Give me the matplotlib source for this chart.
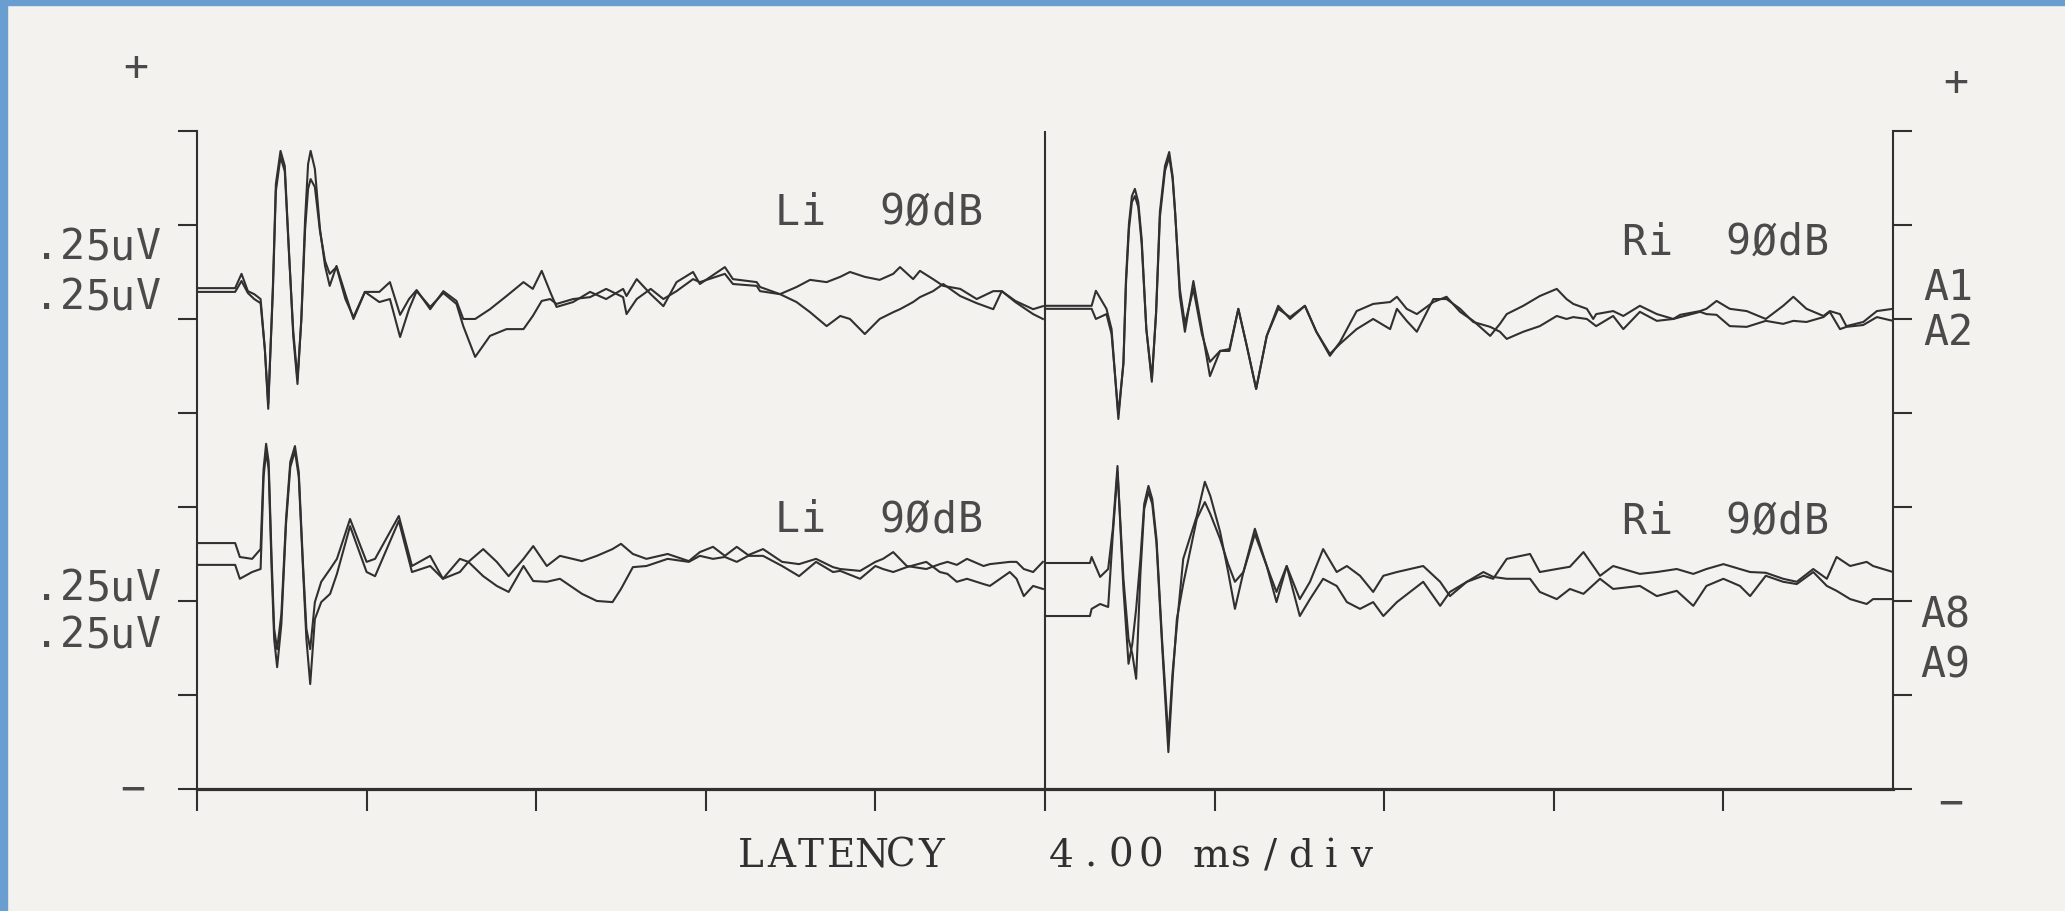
import matplotlib.pyplot as plt
from matplotlib.patches import Rectangle

# ABR printout, two ears x two recordings each, 90 dB click
# latency in ms, amplitude in uV (relative to each pair's baseline)

# left ear (Li), upper pair
t_lu = [0.0, 0.9, 1.05, 1.2, 1.35, 1.5, 1.6, 1.68, 1.79, 1.86,
        1.97, 2.07, 2.17, 2.27, 2.37, 2.46, 2.55, 2.62, 2.68, 2.78,
        2.9, 3.02, 3.13, 3.29, 3.5, 3.69, 3.96,
        4.3, 4.55, 4.79, 5.0, 5.18, 5.5, 5.81, 6.12, 6.28, 6.56,
        6.91, 7.3, 7.7, 7.92, 8.13, 8.33, 8.48, 8.87, 9.27, 9.65,
        10.05, 10.13, 10.37, 10.7, 11.0, 11.31, 11.7, 11.86, 12.45, 12.64,
        13.2, 13.28, 13.75, 14.14, 14.46, 14.85, 15.17, 15.4, 15.75, 16.1,
        16.42, 16.58, 16.89, 17.05, 17.36, 17.6, 18.0, 18.39, 18.78, 18.98,
        19.3, 19.72, 19.95]
lu_a = [0.005, 0.005, 0.043, -0.003, -0.011, -0.024, -0.157, -0.316, 0.011, 0.282,
        0.370, 0.330, 0.101, -0.122, -0.250, -0.077, 0.189, 0.335, 0.370, 0.322,
        0.162, 0.064, 0.011, 0.064, -0.011, -0.077, -0.005,
        -0.005, 0.021, -0.066, -0.024, 0.0, -0.051, -0.003, -0.029, -0.077, -0.077,
        -0.051, -0.016, 0.021, 0.003, 0.051, -0.005, -0.045, -0.032, -0.005, -0.024,
        0.003, -0.016, 0.029, -0.011, -0.043, 0.021, 0.048, 0.016, 0.061, 0.029,
        0.021, 0.008, -0.011, 0.008, 0.027, 0.021, 0.035, 0.048, 0.035, 0.027,
        0.043, 0.061, 0.029, 0.051, 0.029, 0.011, 0.003, -0.024, -0.003, -0.003,
        -0.029, -0.051, -0.043]
lu_b = [-0.005, -0.005, 0.024, -0.008, -0.024, -0.035, -0.157, -0.303, -0.003, 0.263,
        0.354, 0.316, 0.096, -0.109, -0.237, -0.082, 0.162, 0.269, 0.295, 0.274,
        0.157, 0.077, 0.043, 0.061, -0.024, -0.072, -0.005,
        -0.032, -0.024, -0.125, -0.051, -0.003, -0.045, -0.008, -0.037, -0.096, -0.178,
        -0.122, -0.104, -0.104, -0.069, -0.029, -0.024, -0.037, -0.024, -0.019, 0.003,
        -0.019, -0.064, -0.024, 0.003, -0.024, -0.003, 0.029, 0.021, 0.043, 0.016,
        0.011, -0.003, -0.011, -0.032, -0.059, -0.096, -0.069, -0.077, -0.117, -0.077,
        -0.059, -0.051, -0.032, -0.019, -0.003, 0.016, -0.016, -0.035, -0.051, -0.003,
        -0.032, -0.064, -0.077]

# left ear (Li), lower pair
t_ll = [0.0, 0.9, 1.01, 1.3, 1.5, 1.57, 1.63, 1.69, 1.76, 1.82,
        1.89, 1.99, 2.1, 2.2, 2.31, 2.4, 2.5, 2.58, 2.67, 2.78,
        2.93, 3.14, 3.3, 3.61, 4.0, 4.2, 4.76, 5.07, 5.5,
        5.8, 6.2, 6.4, 6.75, 7.07, 7.35, 7.7, 7.93, 8.25, 8.56,
        9.08, 9.43, 9.8, 10.0, 10.28, 10.6, 11.1, 11.6, 11.86, 12.17,
        12.45, 12.73, 13.0, 13.35, 13.8, 14.2, 14.6, 15.0, 15.17, 15.64,
        16.0, 16.18, 16.42, 16.74, 17.2, 17.52, 17.7, 17.92, 18.16, 18.55,
        18.7, 19.17, 19.33, 19.5, 19.72, 19.95]
ll_a = [0.029, 0.029, -0.008, -0.013, 0.013, 0.226, 0.293, 0.245, -0.013, -0.199,
        -0.253, -0.160, 0.093, 0.245, 0.287, 0.218, -0.027, -0.199, -0.253, -0.128,
        -0.074, -0.040, -0.013, 0.093, -0.021, -0.013, 0.101, -0.032, -0.005,
        -0.066, -0.013, -0.021, 0.013, -0.021, -0.059, -0.013, 0.021, -0.032, -0.005,
        -0.019, -0.005, 0.013, 0.027, 0.0, -0.013, 0.0, -0.019, 0.005, 0.019,
        -0.005, 0.019, -0.003, 0.013, -0.021, -0.027, -0.013, -0.035, -0.040, -0.045,
        -0.021, -0.013, 0.005, -0.032, -0.040, -0.027, -0.021, -0.029, -0.013, -0.032,
        -0.027, -0.021, -0.021, -0.040, -0.048, -0.021]
ll_b = [-0.029, -0.029, -0.066, -0.048, -0.040, 0.205, 0.271, 0.226, -0.040, -0.226,
        -0.301, -0.186, 0.080, 0.231, 0.274, 0.205, -0.040, -0.226, -0.346, -0.173,
        -0.128, -0.106, -0.053, 0.074, -0.048, -0.059, 0.088, -0.048, -0.032,
        -0.066, -0.048, -0.021, -0.059, -0.085, -0.101, -0.032, -0.072, -0.074, -0.066,
        -0.106, -0.125, -0.128, -0.093, -0.035, -0.032, -0.013, -0.021, -0.005, -0.013,
        -0.008, -0.021, -0.005, -0.005, -0.032, -0.059, -0.021, -0.048, -0.045, -0.066,
        -0.032, -0.040, -0.048, -0.035, -0.021, -0.048, -0.053, -0.074, -0.066, -0.080,
        -0.085, -0.048, -0.066, -0.112, -0.085, -0.093]

# right ear (Ri), upper pair
t_ru = [0.0, 1.1, 1.2, 1.45, 1.57, 1.73, 1.85, 1.91, 1.98, 2.05,
        2.12, 2.2, 2.28, 2.39, 2.52, 2.62, 2.71, 2.83, 2.93, 3.01,
        3.07, 3.18, 3.3, 3.5, 3.7, 3.89, 4.13,
        4.35, 4.56, 4.76, 4.98, 5.23, 5.5, 5.78, 6.13, 6.4, 6.72,
        6.96, 7.35, 7.74, 8.14, 8.3, 8.53, 8.77, 9.16, 9.47, 9.79,
        10.1, 10.5, 10.73, 10.89, 11.28, 11.67, 12.07, 12.3, 12.46, 12.78,
        12.93, 13.0, 13.4, 13.64, 14.03, 14.43, 14.82, 14.98, 15.45, 15.6,
        15.84, 16.15, 16.55, 17.0, 17.41, 17.65, 17.96, 18.36, 18.51, 18.75,
        18.9, 19.3, 19.62, 20.0]
ru_a = [0.003, 0.003, 0.043, -0.005, -0.059, -0.298, -0.146, 0.074, 0.221, 0.295,
        0.314, 0.279, 0.181, -0.059, -0.199, -0.013, 0.253, 0.375, 0.412, 0.348,
        0.253, 0.029, -0.066, 0.069, -0.059, -0.184, -0.117,
        -0.117, -0.005, -0.104, -0.218, -0.077, 0.003, -0.032, 0.003, -0.066, -0.130,
        -0.093, -0.011, 0.008, 0.013, 0.027, -0.005, -0.019, 0.013, 0.027, -0.013,
        -0.037, -0.077, -0.045, -0.019, 0.003, 0.029, 0.048, 0.021, 0.008, -0.005,
        -0.032, -0.019, -0.011, -0.024, 0.003, -0.019, -0.032, -0.021, -0.011, -0.005,
        0.016, -0.005, -0.011, -0.032, 0.003, 0.027, -0.005, -0.024, -0.011, -0.019,
        -0.051, -0.040, -0.011, -0.005]
ru_b = [-0.005, -0.005, -0.032, -0.019, -0.072, -0.285, -0.152, 0.061, 0.207, 0.279,
        0.295, 0.266, 0.168, -0.059, -0.191, -0.019, 0.239, 0.362, 0.399, 0.340,
        0.247, 0.048, -0.045, 0.048, -0.072, -0.146, -0.117,
        -0.112, -0.005, -0.104, -0.218, -0.077, -0.005, -0.027, 0.003, -0.066, -0.125,
        -0.098, -0.059, -0.032, -0.059, -0.005, -0.037, -0.066, 0.021, 0.021, -0.005,
        -0.040, -0.053, -0.066, -0.085, -0.066, -0.051, -0.024, -0.032, -0.027, -0.032,
        -0.045, -0.051, -0.024, -0.059, -0.013, -0.037, -0.032, -0.027, -0.013, -0.019,
        -0.021, -0.051, -0.053, -0.037, -0.045, -0.037, -0.040, -0.027, -0.013, -0.059,
        -0.053, -0.048, -0.027, -0.037]

# right ear (Ri), lower pair
t_rl = [0.0, 1.06, 1.1, 1.3, 1.49, 1.6, 1.71, 1.78, 1.85, 1.97,
        2.06, 2.15, 2.25, 2.34, 2.44, 2.53, 2.63, 2.76, 2.91, 3.01,
        3.11, 3.26, 3.58, 3.77, 3.9, 4.13, 4.32, 4.48,
        4.68, 4.95, 5.23, 5.46, 5.7, 6.01, 6.25, 6.56, 6.88, 7.12,
        7.43, 7.74, 7.98, 8.3, 8.92, 9.32, 9.55, 9.95, 10.34, 10.57,
        10.89, 11.44, 11.67, 12.07, 12.38, 12.7, 13.09, 13.4, 14.03, 14.43,
        14.9, 15.29, 15.6, 16.0, 16.39, 16.63, 17.0, 17.41, 17.73, 18.12,
        18.44, 18.67, 18.99, 19.38, 19.53, 20.0]
rl_a = [0.069, 0.069, 0.085, 0.032, 0.053, 0.160, 0.327, 0.160, 0.0, -0.199,
        -0.146, -0.053, 0.080, 0.226, 0.274, 0.239, 0.133, -0.133, -0.399, -0.221,
        -0.098, 0.080, 0.194, 0.285, 0.247, 0.152, 0.045, -0.053,
        0.045, 0.160, 0.061, -0.008, 0.061, -0.027, 0.019, 0.106, 0.045, 0.061,
        0.035, -0.008, 0.035, 0.045, 0.061, 0.019, -0.019, 0.019, 0.035, 0.027,
        0.080, 0.093, 0.045, 0.053, 0.059, 0.098, 0.035, 0.061, 0.040, 0.045,
        0.053, 0.040, 0.053, 0.066, 0.053, 0.045, 0.043, 0.027, 0.019, 0.053,
        0.027, 0.085, 0.061, 0.072, 0.061, 0.045]
rl_b = [-0.072, -0.072, -0.053, -0.040, -0.048, 0.146, 0.311, 0.173, 0.027, -0.133,
        -0.173, -0.239, 0.040, 0.213, 0.258, 0.226, 0.120, -0.146, -0.434, -0.239,
        -0.080, 0.013, 0.186, 0.231, 0.199, 0.133, 0.066, 0.019,
        0.045, 0.146, 0.061, -0.035, 0.061, -0.072, -0.027, 0.027, 0.008, -0.035,
        -0.053, -0.035, -0.072, -0.035, 0.019, -0.045, -0.008, 0.019, 0.045, 0.032,
        0.027, 0.027, -0.008, -0.027, 0.0, -0.013, 0.027, 0.0, 0.008, -0.019,
        -0.005, -0.045, 0.008, 0.027, 0.008, -0.019, 0.035, 0.019, 0.013, 0.045,
        0.008, -0.005, -0.027, -0.040, -0.027, -0.027]

ms_per_div = 4.0
uv_per_div = 0.25

# layout: panel start (ms) and where each pair sits (uV above the bottom line)
pairs = [
    (t_lu, lu_a, lu_b, 0.0, 1.327),
    (t_ll, ll_a, ll_b, 0.0, 0.625),
    (t_ru, ru_a, ru_b, 20.0, 1.282),
    (t_rl, rl_a, rl_b, 20.0, 0.532),
]

paper = '#f3f2ef'
ink = '#303030'
pen = '#4a4a4a'
plotter_font = 'DejaVu Sans Mono'

fig = plt.figure(figsize=(20.65, 9.12), dpi=100, facecolor=paper)
ax = fig.add_axes([0.0954, 0.1338, 0.8213, 0.7215])
ax.set_facecolor('none')

for t, a, b, x0, base in pairs:
    for trace in (a, b):
        ax.plot([x0 + v for v in t], [base + v for v in trace],
                color=ink, lw=1.5)

ax.set_xlim(0, 40)
ax.set_ylim(0, 7 * uv_per_div)

# frame like the plotter draws it
ax.spines['top'].set_visible(False)
for side in ('left', 'right'):
    ax.spines[side].set_linewidth(1.5)
    ax.spines[side].set_color(ink)
ax.spines['bottom'].set_linewidth(2.3)
ax.spines['bottom'].set_color(ink)
ax.axvline(20, color=ink, lw=1.5)

ax.set_xticks([i * ms_per_div for i in range(10)])
ax.set_yticks([i * uv_per_div for i in range(8)])
ax.tick_params(axis='x', direction='out', length=16, width=1.5, color=ink,
               labelbottom=False)
ax.tick_params(axis='y', direction='out', length=14, width=1.5, color=ink,
               left=True, right=True, labelleft=False, labelright=False)


def mono(x, y, s, pitch, **kw):
    # fixed-pitch text, one glyph per cell
    for i, ch in enumerate(s):
        if ch != ' ':
            ax.text(x + (i + 0.5) * pitch, y, ch, ha='center', **kw)


# plotter annotations
txt = dict(family=plotter_font, fontsize=30, color=pen, va='center',
           clip_on=False)
ax.text(-1.44, 1.92, '+', ha='center', **txt)
ax.text(-1.51, 0.0, '\u2212', ha='center', **txt)
ax.text(41.49, 1.88, '+', ha='center', **txt)
ax.text(41.37, -0.035, '\u2212', ha='center', **txt)

for y in (1.444, 1.311, 0.537, 0.412):
    mono(-3.85, y, '.25uV', 0.6, **txt)

mono(13.61, 1.535, 'Li  9\u00d8dB', 0.615, **txt)
mono(13.61, 0.718, 'Li  9\u00d8dB', 0.615, **txt)
mono(33.58, 1.455, 'Ri  9\u00d8dB', 0.615, **txt)
mono(33.58, 0.713, 'Ri  9\u00d8dB', 0.615, **txt)

mono(40.73, 1.335, 'A1', 0.58, **txt)
mono(40.73, 1.215, 'A2', 0.58, **txt)
mono(40.64, 0.465, 'A8', 0.58, **txt)
mono(40.64, 0.332, 'A9', 0.58, **txt)

foot = dict(family='DejaVu Serif', fontsize=28, color=ink, va='center',
            clip_on=False)
mono(12.71, -0.176, 'LATENCY', 0.708, **foot)
mono(20.02, -0.176, '4.00 ms/div', 0.708, **foot)

# blue mount showing at the left and top edges of the scan
fig.add_artist(Rectangle((0, 0), 7 / 2065, 1, transform=fig.transFigure,
                         color='#6b9ed0', zorder=10))
fig.add_artist(Rectangle((0, 1 - 6 / 912), 1, 6 / 912,
                         transform=fig.transFigure, color='#6b9ed0', zorder=10))

fig.savefig('out.png', dpi=100, facecolor=paper)
